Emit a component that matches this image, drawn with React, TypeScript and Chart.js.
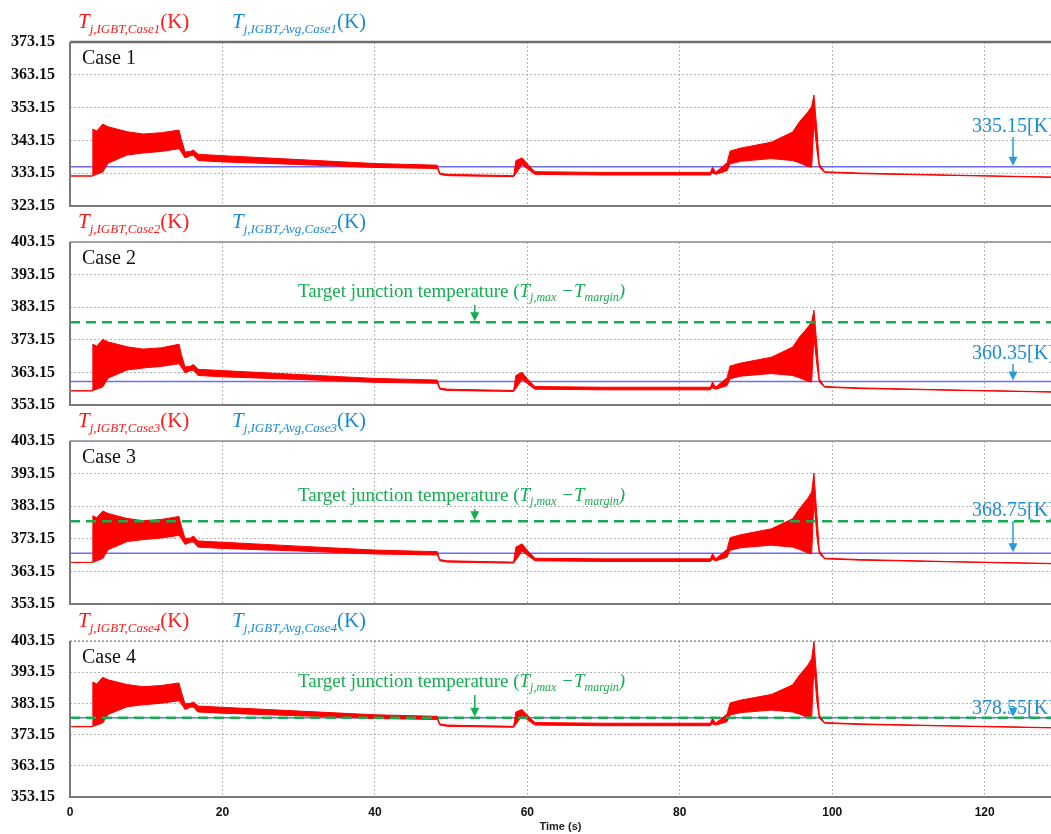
import React, { useEffect, useRef } from 'react';
import { Chart, registerables } from 'chart.js';

Chart.register(...registerables);

// ---------- data ----------
const timeS = [0, 2.9, 3.0, 3.5, 4.3, 5.0, 7.5, 9.6, 12, 14.3, 14.6, 15.1, 15.8, 16.2, 16.8, 20, 30, 40, 48.2, 48.5, 49.5, 58.2, 58.5, 59.3, 60.0, 61.0, 70, 84.0, 84.3, 84.7, 85.3, 86.2, 86.6, 88, 92, 94.8, 95.7, 96.8, 97.3, 97.6, 98.0, 98.3, 99.0, 103.6, 115, 128.7];

const case1Upper = [332.3, 332.3, 346.6, 346.0, 348.1, 347.3, 345.8, 345.1, 345.5, 346.3, 343.5, 339.6, 339.8, 340.2, 338.9, 338.5, 337.3, 336.1, 335.6, 333.2, 332.8, 332.4, 337.0, 337.8, 336.0, 333.6, 333.4, 333.4, 335.0, 333.4, 334.6, 336.3, 339.9, 340.8, 342.6, 345.7, 348.8, 351.8, 353.5, 357.0, 346.0, 336.0, 333.6, 333.2, 332.6, 332.0];
const case1Lower = [332.3, 332.3, 332.4, 332.8, 333.5, 336.2, 338.7, 339.3, 339.8, 340.6, 339.6, 337.8, 338.5, 338.6, 337.0, 336.6, 335.8, 334.9, 334.6, 332.8, 332.4, 332.1, 333.0, 335.8, 334.5, 332.8, 332.6, 332.6, 333.2, 332.8, 333.2, 333.9, 336.0, 336.8, 337.6, 337.0, 336.3, 335.2, 335.0, 349.0, 340.0, 335.0, 333.4, 333.0, 332.5, 331.9];

const case2Upper = [357.5, 357.5, 371.8, 371.2, 373.3, 372.5, 371.0, 370.3, 370.7, 371.8, 368.7, 364.8, 365.0, 365.6, 364.1, 363.7, 362.5, 361.3, 360.8, 358.4, 358.0, 357.6, 362.2, 363.2, 361.2, 358.8, 358.6, 358.6, 360.2, 358.6, 359.8, 361.5, 365.1, 366.0, 367.8, 370.9, 374.0, 377.0, 378.7, 382.2, 371.2, 361.2, 358.8, 358.4, 357.8, 357.2];
const case2Lower = [357.5, 357.5, 357.6, 358.0, 358.7, 361.4, 363.9, 364.5, 365.0, 365.8, 364.8, 363.0, 363.7, 363.8, 362.2, 361.8, 361.0, 360.1, 359.8, 358.0, 357.6, 357.3, 358.2, 361.0, 359.7, 358.0, 357.8, 357.8, 358.4, 358.0, 358.4, 359.1, 361.2, 362.0, 362.8, 362.2, 361.5, 360.4, 360.2, 374.0, 365.2, 360.2, 358.6, 358.2, 357.7, 357.1];

const case3Upper = [365.9, 365.9, 380.2, 379.6, 381.7, 380.9, 379.4, 378.7, 379.1, 380.0, 377.1, 373.2, 373.4, 374.0, 372.5, 372.1, 370.9, 369.7, 369.2, 366.8, 366.4, 366.0, 370.6, 371.6, 369.6, 367.2, 367.0, 367.0, 368.6, 367.0, 368.2, 369.9, 373.5, 374.4, 376.2, 379.3, 382.4, 385.6, 387.5, 393.3, 380.0, 369.6, 367.2, 366.8, 366.2, 365.6];
const case3Lower = [365.9, 365.9, 366.0, 366.4, 367.1, 369.8, 372.3, 372.9, 373.4, 374.2, 373.2, 371.4, 372.1, 372.2, 370.6, 370.2, 369.4, 368.5, 368.2, 366.4, 366.0, 365.7, 366.6, 369.4, 368.1, 366.4, 366.2, 366.2, 366.8, 366.4, 366.8, 367.5, 369.6, 370.4, 371.2, 370.6, 369.9, 368.8, 368.6, 385.0, 373.6, 368.6, 367.0, 366.6, 366.1, 365.5];

const case4Upper = [375.7, 375.7, 390.0, 389.4, 391.5, 390.7, 389.2, 388.5, 388.9, 389.7, 386.9, 383.0, 383.2, 383.6, 382.3, 381.9, 380.7, 379.5, 379.0, 376.6, 376.2, 375.8, 380.4, 381.2, 379.4, 377.0, 376.8, 376.8, 378.4, 376.8, 378.0, 379.7, 383.3, 384.2, 386.0, 389.1, 392.2, 395.4, 397.5, 403.0, 390.0, 379.4, 377.0, 376.6, 376.0, 375.4];
const case4Lower = [375.7, 375.7, 375.8, 376.2, 376.9, 379.6, 382.1, 382.7, 383.2, 384.0, 383.0, 381.2, 381.9, 382.0, 380.4, 380.0, 379.2, 378.3, 378.0, 376.2, 375.8, 375.5, 376.4, 379.2, 377.9, 376.2, 376.0, 376.0, 376.6, 376.2, 376.6, 377.3, 379.4, 380.2, 381.0, 380.4, 379.7, 378.6, 378.4, 395.0, 383.4, 378.4, 376.8, 376.4, 375.9, 375.3];

const avgTemps = [335.15, 360.35, 368.75, 378.55];
const avgLabels = ['335.15[K]', '360.35[K]', '368.75[K]', '378.55[K]'];
const targetTemp = 378.55;
const caseNames = ['Case 1', 'Case 2', 'Case 3', 'Case 4'];
const redSubs = ['j,IGBT,Case1', 'j,IGBT,Case2', 'j,IGBT,Case3', 'j,IGBT,Case4'];
const blueSubs = ['j,IGBT,Avg,Case1', 'j,IGBT,Avg,Case2', 'j,IGBT,Avg,Case3', 'j,IGBT,Avg,Case4'];

const yTicksCase1 = [323.15, 333.15, 343.15, 353.15, 363.15, 373.15];
const yTicksOthers = [353.15, 363.15, 373.15, 383.15, 393.15, 403.15];
const xTicks = [0, 20, 40, 60, 80, 100, 120];
const xMin = 0;
const xMax = 128.7;

// ---------- layout / style ----------
const RED = '#ff0000';
const BLUE_LINE = '#6b6bff';
const BLUE_TXT = '#1d8cd3';
const GREEN = '#14ad4f';
const SERIF = '"Liberation Serif", "Times New Roman", serif';

type PanelCfg = {
  upper: number[];
  lower: number[];
  avgIdx: number;
  showTarget: boolean;
  yTicks: number[];
  canvasTop: number;
  height: number;
  xAxisH: number;
  showX: boolean;
  topBorder: 'dark' | 'light' | 'dotted';
  avgTextDy: number;
  greenTextDy: number;
};

// plot areas: P1 42-206, P2 242-405, P3 441-604, P4 641-797
const panels: PanelCfg[] = [
  { upper: case1Upper, lower: case1Lower, avgIdx: 0, showTarget: false, yTicks: yTicksCase1, canvasTop: 0, height: 231, xAxisH: 25, showX: false, topBorder: 'dark', avgTextDy: 90, greenTextDy: 0 },
  { upper: case2Upper, lower: case2Lower, avgIdx: 1, showTarget: true, yTicks: yTicksOthers, canvasTop: 200, height: 230, xAxisH: 25, showX: false, topBorder: 'light', avgTextDy: 117, greenTextDy: 55 },
  { upper: case3Upper, lower: case3Lower, avgIdx: 2, showTarget: true, yTicks: yTicksOthers, canvasTop: 399, height: 230, xAxisH: 25, showX: false, topBorder: 'light', avgTextDy: 75, greenTextDy: 60 },
  { upper: case4Upper, lower: case4Lower, avgIdx: 3, showTarget: true, yTicks: yTicksOthers, canvasTop: 599, height: 235, xAxisH: 37, showX: true, topBorder: 'dotted', avgTextDy: 73, greenTextDy: 46 },
];

type Part = { t: string; it?: boolean; size: number; dy?: number };

function drawRich(ctx: CanvasRenderingContext2D, x: number, y: number, parts: Part[], color: string) {
  ctx.fillStyle = color;
  ctx.textBaseline = 'alphabetic';
  ctx.textAlign = 'left';
  let cx = x;
  for (const p of parts) {
    ctx.font = `${p.it ? 'italic ' : ''}${p.size}px ${SERIF}`;
    ctx.fillText(p.t, cx, y + (p.dy || 0));
    cx += ctx.measureText(p.t).width;
  }
}

function drawArrow(ctx: CanvasRenderingContext2D, x: number, y0: number, y1: number, color: string) {
  const head = 9;
  ctx.strokeStyle = color;
  ctx.fillStyle = color;
  ctx.lineWidth = 1.5;
  ctx.setLineDash([]);
  if (y1 - y0 > head) {
    ctx.beginPath();
    ctx.moveTo(x, y0);
    ctx.lineTo(x, y1 - head + 1);
    ctx.stroke();
  }
  ctx.beginPath();
  ctx.moveTo(x - 4.5, y1 - head);
  ctx.lineTo(x + 4.5, y1 - head);
  ctx.lineTo(x, y1);
  ctx.closePath();
  ctx.fill();
}

function Panel({ idx }: { idx: number }) {
  const ref = useRef<HTMLCanvasElement>(null);
  const p = panels[idx];

  useEffect(() => {
    const canvas = ref.current;
    if (!canvas) return;
    const avg = avgTemps[p.avgIdx];
    const toPts = (arr: number[]) => timeS.map((t, i) => ({ x: t, y: arr[i] }));

    const datasets: any[] = [
      {
        label: 'lower',
        data: toPts(p.lower),
        borderColor: RED,
        borderWidth: 1,
        pointRadius: 0,
        fill: false,
        order: 1,
      },
      {
        label: 'upper',
        data: toPts(p.upper),
        borderColor: RED,
        borderWidth: 1,
        pointRadius: 0,
        backgroundColor: RED,
        fill: '-1',
        order: 1,
      },
      {
        label: 'avg',
        data: [{ x: xMin, y: avg }, { x: xMax, y: avg }],
        borderColor: BLUE_LINE,
        borderWidth: 1.5,
        pointRadius: 0,
        fill: false,
        order: 2,
      },
    ];
    if (p.showTarget) {
      datasets.push({
        label: 'target',
        data: [{ x: xMin, y: targetTemp }, { x: xMax, y: targetTemp }],
        borderColor: GREEN,
        borderWidth: 2.5,
        borderDash: [10, 6],
        pointRadius: 0,
        fill: false,
        order: 0,
      });
    }

    const overlay = {
      id: 'overlay' + idx,
      afterDatasetsDraw(chart: any) {
        const ctx: CanvasRenderingContext2D = chart.ctx;
        const a = chart.chartArea;
        const ys = chart.scales.y;
        const xs = chart.scales.x;
        ctx.save();
        // frame
        ctx.setLineDash([]);
        ctx.strokeStyle = '#7a7a7a';
        ctx.lineWidth = 2;
        ctx.beginPath();
        ctx.moveTo(a.left, a.top);
        ctx.lineTo(a.left, a.bottom);
        ctx.lineTo(a.right, a.bottom);
        ctx.stroke();
        if (p.topBorder === 'dark') {
          ctx.strokeStyle = '#6e6e6e';
          ctx.lineWidth = 2.5;
        } else if (p.topBorder === 'light') {
          ctx.strokeStyle = '#8a8a8a';
          ctx.lineWidth = 1.5;
        } else {
          ctx.strokeStyle = '#777777';
          ctx.lineWidth = 1;
          ctx.setLineDash([2, 2]);
        }
        ctx.beginPath();
        ctx.moveTo(a.left, a.top);
        ctx.lineTo(a.right, a.top);
        ctx.stroke();
        ctx.setLineDash([]);

        // titles above panel
        const ty = a.top - 14;
        drawRich(ctx, 78, ty, [
          { t: 'T', it: true, size: 21 },
          { t: redSubs[idx], it: true, size: 13, dy: 5 },
          { t: '(K)', size: 21 },
        ], '#ff1a1a');
        drawRich(ctx, 232, ty, [
          { t: 'T', it: true, size: 21 },
          { t: blueSubs[idx], it: true, size: 13, dy: 5 },
          { t: '(K)', size: 21 },
        ], BLUE_TXT);

        // case label
        ctx.fillStyle = '#111';
        ctx.font = `20px ${SERIF}`;
        ctx.textAlign = 'left';
        ctx.textBaseline = 'alphabetic';
        ctx.fillText(caseNames[idx], 82, a.top + 22);

        // target annotation
        if (p.showTarget) {
          const gy = a.top + p.greenTextDy;
          drawRich(ctx, 298, gy, [
            { t: 'Target junction temperature (', size: 19 },
            { t: 'T', it: true, size: 19 },
            { t: 'j,max', it: true, size: 12, dy: 4 },
            { t: ' \u2212T', it: true, size: 19 },
            { t: 'margin', it: true, size: 12, dy: 4 },
            { t: ')', it: true, size: 19 },
          ], GREEN);
          const lineY = ys.getPixelForValue(targetTemp);
          drawArrow(ctx, xs.getPixelForValue(53.1), gy + 8, lineY - 1, GREEN);
        }

        // average annotation
        const by = a.top + p.avgTextDy;
        ctx.fillStyle = BLUE_TXT;
        ctx.font = `20px ${SERIF}`;
        ctx.textAlign = 'left';
        ctx.fillText(avgLabels[idx], 972, by);
        const avgY = ys.getPixelForValue(avg);
        drawArrow(ctx, 1013, by + 5, avgY - 1, '#2a9ad8');
        ctx.restore();
      },
    };

    const chart = new Chart(canvas, {
      type: 'line',
      data: { datasets },
      options: {
        animation: false,
        responsive: false,
        events: [],
        layout: { padding: { top: 42, bottom: 0, left: 0, right: 0 } },
        plugins: { legend: { display: false }, tooltip: { enabled: false } },
        elements: { line: { tension: 0 } },
        scales: {
          x: {
            type: 'linear',
            min: xMin,
            max: xMax,
            afterBuildTicks: (s: any) => { s.ticks = xTicks.map((v) => ({ value: v })); },
            afterFit: (s: any) => { s.height = p.xAxisH; },
            grid: { color: '#b3b3b3', lineWidth: 1, drawTicks: false },
            border: { display: false, dash: [2, 2] },
            ticks: {
              display: p.showX,
              padding: 8,
              maxRotation: 0,
              includeBounds: false,
              color: '#111',
              font: { family: '"Liberation Sans", Arial, sans-serif', weight: 'bold', size: 12 },
              callback: (v: any) => String(v),
            },
            title: {
              display: p.showX,
              text: 'Time (s)',
              color: '#222',
              padding: { top: 0, bottom: 0 },
              font: { family: '"Liberation Sans", Arial, sans-serif', weight: 'bold', size: 11 },
            },
          },
          y: {
            type: 'linear',
            min: p.yTicks[0],
            max: p.yTicks[p.yTicks.length - 1],
            afterBuildTicks: (s: any) => { s.ticks = p.yTicks.map((v) => ({ value: v })); },
            afterFit: (s: any) => { s.width = 70; },
            grid: { color: '#b3b3b3', lineWidth: 1, drawTicks: false },
            border: { display: false, dash: [2, 2] },
            ticks: {
              padding: 15,
              color: '#111',
              font: { family: SERIF, weight: 'bold', size: 16 },
              callback: (v: any) => Number(v).toFixed(2),
            },
          },
        },
      } as any,
      plugins: [overlay],
    });
    return () => chart.destroy();
  }, []);

  return (
    <canvas
      ref={ref}
      width={1051}
      height={p.height}
      style={{ position: 'absolute', left: 0, top: p.canvasTop, width: 1051, height: p.height }}
    />
  );
}

export default function App() {
  return (
    <div style={{ position: 'absolute', left: 0, top: 0, width: 1051, height: 834, background: '#fff', overflow: 'hidden' }}>
      {panels.map((_, i) => <Panel key={i} idx={i} />)}
    </div>
  );
}
